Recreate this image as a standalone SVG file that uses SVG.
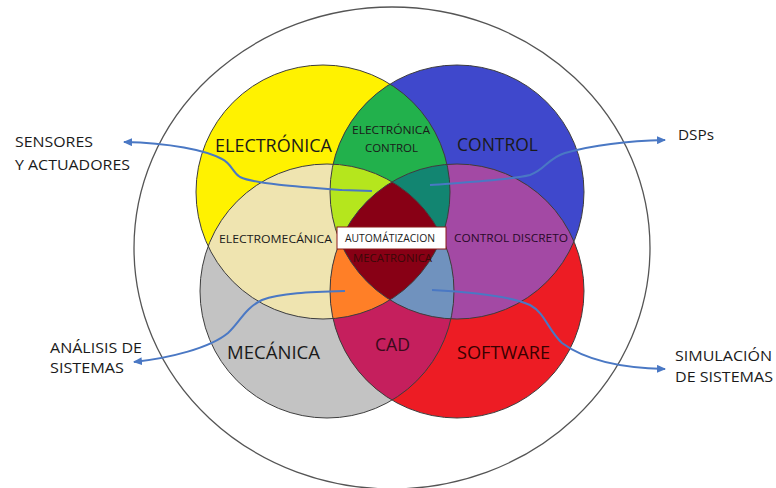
<svg xmlns="http://www.w3.org/2000/svg" width="776" height="488" viewBox="0 0 776 488">
<style>
.t{font-family:"Open Sans","Liberation Sans",Arial,sans-serif;fill:#1a1a1a}
.big{font-size:17.5px}
.sm{font-size:11.5px}
.out{font-size:14.5px}
.ol{fill:none;stroke:#3d3d3d;stroke-width:1}
.arr{fill:none;stroke:#4a78c4;stroke-width:2;marker-end:url(#ah)}
</style>
<defs>
<clipPath id="cY"><circle cx="323" cy="192" r="127"/></clipPath>
<clipPath id="cB"><circle cx="457" cy="192" r="127"/></clipPath>
<clipPath id="cG"><circle cx="327" cy="291" r="127"/></clipPath>
<clipPath id="cR"><circle cx="457" cy="291" r="127"/></clipPath>
<marker id="ah" markerWidth="10" markerHeight="8" refX="8" refY="4" orient="auto" markerUnits="userSpaceOnUse">
<path d="M0,0 L9,4 L0,8 Z" fill="#4a78c4"/>
</marker>
</defs>
<rect width="776" height="488" fill="#ffffff"/>
<g id="outer"><ellipse cx="392" cy="248" rx="258" ry="241" fill="none" stroke="#555" stroke-width="1.3"/></g>
<g id="electronica"><circle cx="323" cy="192" r="127" fill="#FFF200"/></g>
<g id="control"><circle cx="457" cy="192" r="127" fill="#3F48CC"/></g>
<g id="mecanica"><circle cx="327" cy="291" r="127" fill="#C3C3C3"/></g>
<g id="software"><circle cx="457" cy="291" r="127" fill="#ED1C24"/></g>
<g id="electronica-control"><circle cx="457" cy="192" r="127" fill="#22B14C" clip-path="url(#cY)"/></g>
<g id="electromecanica"><circle cx="327" cy="291" r="127" fill="#EFE4B0" clip-path="url(#cY)"/></g>
<g id="control-discreto"><circle cx="457" cy="291" r="127" fill="#A349A4" clip-path="url(#cB)"/></g>
<g id="cad"><circle cx="457" cy="291" r="127" fill="#C51F5D" clip-path="url(#cG)"/></g>
<g id="sensores-region" clip-path="url(#cY)"><circle cx="327" cy="291" r="127" fill="#B5E61D" clip-path="url(#cB)"/></g>
<g id="dsp-region" clip-path="url(#cY)"><circle cx="457" cy="291" r="127" fill="#128571" clip-path="url(#cB)"/></g>
<g id="analisis-region" clip-path="url(#cY)"><circle cx="457" cy="291" r="127" fill="#FF7F27" clip-path="url(#cG)"/></g>
<g id="simulacion-region" clip-path="url(#cB)"><circle cx="457" cy="291" r="127" fill="#7092BE" clip-path="url(#cG)"/></g>
<g id="mecatronica" clip-path="url(#cY)"><g clip-path="url(#cB)"><circle cx="457" cy="291" r="127" fill="#880015" clip-path="url(#cG)"/></g></g>
<g id="outlines">
<circle class="ol" cx="323" cy="192" r="127"/>
<circle class="ol" cx="457" cy="192" r="127"/>
<circle class="ol" cx="327" cy="291" r="127"/>
<circle class="ol" cx="457" cy="291" r="127"/>
</g>
<g id="connectors">
<path class="arr" d="M372,191 L342,190 C300,187 255,184 240,177 C232,172 232,164 222,159 C205,150 170,143 124,142"/>
<path class="arr" d="M430,185 C470,182 510,180 530,175 C545,170 548,158 565,153 C590,146 620,141 665,140"/>
<path class="arr" d="M345,291 C310,292 280,293 262,300 C245,308 240,322 228,333 C210,348 170,358 134,362"/>
<path class="arr" d="M432,290 C470,292 510,296 530,305 C545,313 548,330 562,343 C585,360 620,368 665,369"/>
</g>
<g id="labels">
<text class="t big" x="215" y="152" textLength="117" lengthAdjust="spacingAndGlyphs">ELECTRÓNICA</text>
<text class="t big" x="457" y="151" textLength="81" lengthAdjust="spacingAndGlyphs">CONTROL</text>
<text class="t sm" x="352" y="134" textLength="78" lengthAdjust="spacingAndGlyphs">ELECTRÓNICA</text>
<text class="t sm" x="365" y="152" textLength="53" lengthAdjust="spacingAndGlyphs">CONTROL</text>
<text class="t sm" x="219" y="243" textLength="113" lengthAdjust="spacingAndGlyphs">ELECTROMECÁNICA</text>
<text class="t sm" x="454" y="242" textLength="114" lengthAdjust="spacingAndGlyphs" style="fill:#2a0a2a">CONTROL DISCRETO</text>
<text class="t sm" x="353" y="262" textLength="79" lengthAdjust="spacingAndGlyphs" style="fill:#3a0808">MECATRONICA</text>
<rect x="337" y="227" width="109" height="22" fill="#ffffff" stroke="#8b1a1a" stroke-width="1"/>
<text class="t" x="345" y="242" font-size="11" textLength="90" lengthAdjust="spacingAndGlyphs">AUTOMÁTIZACION</text>
<text class="t big" x="227" y="359" textLength="93" lengthAdjust="spacingAndGlyphs">MECÁNICA</text>
<text class="t big" x="375" y="351" textLength="35" lengthAdjust="spacingAndGlyphs" style="fill:#3a0a1a">CAD</text>
<text class="t big" x="457" y="359" textLength="93" lengthAdjust="spacingAndGlyphs" style="fill:#3a0000">SOFTWARE</text>
<text class="t out" x="15" y="147" textLength="78" lengthAdjust="spacingAndGlyphs">SENSORES</text>
<text class="t out" x="15" y="170" textLength="115" lengthAdjust="spacingAndGlyphs">Y ACTUADORES</text>
<text class="t out" x="678" y="140" textLength="36" lengthAdjust="spacingAndGlyphs">DSPs</text>
<text class="t out" x="50" y="353" textLength="92" lengthAdjust="spacingAndGlyphs">ANÁLISIS DE</text>
<text class="t out" x="50" y="373" textLength="74" lengthAdjust="spacingAndGlyphs">SISTEMAS</text>
<text class="t out" x="675" y="361" textLength="97" lengthAdjust="spacingAndGlyphs">SIMULACIÓN</text>
<text class="t out" x="675" y="382" textLength="98" lengthAdjust="spacingAndGlyphs">DE SISTEMAS</text>
</g>
</svg>
